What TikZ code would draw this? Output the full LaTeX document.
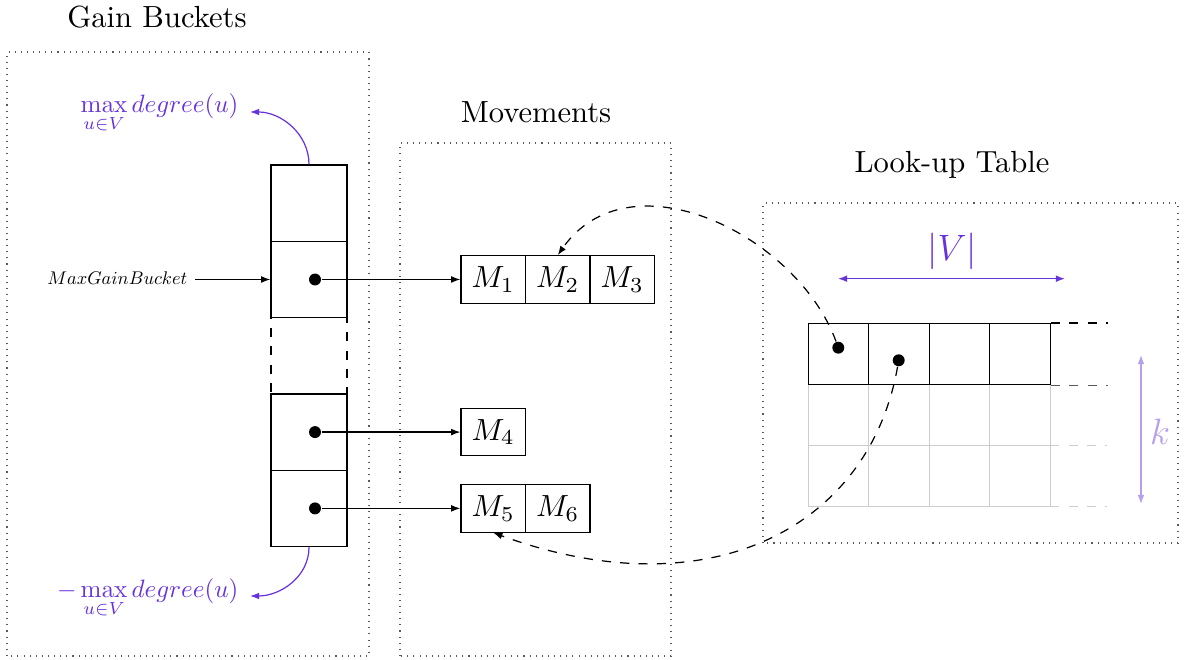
\documentclass[tikz,border=0pt]{standalone}
\usetikzlibrary{arrows.meta}
\definecolor{accent}{RGB}{102,51,221}
\definecolor{accentlight}{RGB}{182,160,238}
\definecolor{cellgray}{RGB}{205,205,205}
\begin{document}
\begin{tikzpicture}[x=0.327pt,y=0.327pt,
  >={Latex[length=3pt,width=2.2pt]},
  frame/.style={draw,black!65,line width=0.35pt,dash pattern=on 0.35pt off 1.65pt},
  title/.style={anchor=base,inner sep=0pt,font=\normalsize},
  bucket/.style={draw,minimum width=24.85pt,minimum height=24.95pt,inner sep=0pt},
  mcell/.style={draw,minimum width=21.09pt,minimum height=15.53pt,inner sep=0pt},
  tcell/.style={draw,minimum width=19.78pt,minimum height=19.95pt,inner sep=0pt},
  pointer/.style={circle,fill,minimum size=3.9pt,inner sep=0pt},
  ptr/.style={->},
  jump/.style={->,dashed},
  bound/.style={anchor=base east,inner sep=0pt,text=accent},
  ext/.style={dashed}]
\useasboundingbox (0,0) rectangle (1184,660);

% section frames
\draw[frame] (7,4) rectangle (369,608);
\draw[frame] (400,4) rectangle (671,517);
\draw[frame] (763,117) rectangle (1178,457);

% section titles
\node[title] (tGain) at (157,632.5) {Gain Buckets};
\node[title] (tMove) at (536,537) {Movements};
\node[title] (tLook) at (952,487) {Look-up Table};

% gain buckets
\node[bucket] (b1) at (309,456.8) {};
\node[bucket] (b2) at (309,380.5) {};
\node[bucket,dashed] (b3) at (309,304.2) {};
\node[bucket] (b4) at (309,227.9) {};
\node[bucket] (b5) at (309,151.6) {};

\node[pointer] (d2) at (315,380.5) {};
\node[pointer] (d4) at (315,227.9) {};
\node[pointer] (d5) at (315,151.6) {};

% bucket range labels
\node[bound] (lmax) at (239,547) {\scalebox{0.82}{$\displaystyle\max_{u\in V} degree(u)$}};
\node[bound] (lmin) at (239,62) {\scalebox{0.82}{$\displaystyle-\max_{u\in V} degree(u)$}};
\coordinate (maxTop) at (250,548);
\coordinate (maxBot) at (250,64);
\draw[accent,->] (b1.north) to[out=90,in=0] (maxTop);
\draw[accent,->] (b5.south) to[out=-90,in=0] (maxBot);

% max gain pointer
\node[anchor=base east,inner sep=0pt] (mgb) at (188,375) {\scalebox{0.6}{$MaxGainBucket$}};
\draw[ptr] ([xshift=2.3pt]mgb.east |- b2.west) -- (b2.west);

% movement lists
\node[mcell] (M1) at (493.25,380.5) {$M_1$};
\node[mcell] (M2) at (557.75,380.5) {$M_2$};
\node[mcell] (M3) at (622.25,380.5) {$M_3$};
\node[mcell] (M4) at (493.25,227.9) {$M_4$};
\node[mcell] (M5) at (493.25,151.6) {$M_5$};
\node[mcell] (M6) at (557.75,151.6) {$M_6$};

\draw[ptr] (d2) -- (M1.west);
\draw[ptr] (d4) -- (M4.west);
\draw[ptr] (d5) -- (M5.west);

% look-up table: unused rows in light gray
\foreach \i in {0,...,3}
  \foreach \j in {1,2}
    \draw[cellgray] (808.25+60.5*\i,275.4-61*\j) rectangle +(60.5,61);
\draw[ext,cellgray] (1050.25,214.4) -- (1107,214.4);
\draw[ext,cellgray] (1050.25,153.4) -- (1107,153.4);

% look-up table: first row
\node[tcell] (t1) at (838.5,305.9) {};
\node[tcell] (t2) at (899,305.9) {};
\node[tcell] (t3) at (959.5,305.9) {};
\node[tcell] (t4) at (1020,305.9) {};
\draw[ext] (t4.north east) -- ++(57,0);
\draw[ext,black!65] (t4.south east) -- ++(57,0);

\node[pointer] (td1) at (838.3,312.3) {};
\node[pointer] (td2) at (898.7,299.7) {};

% table dimensions
\coordinate (vL) at (838,381.3);
\coordinate (vR) at (1065,381.3);
\draw[accent,<->] (vL) -- (vR);
\node[text=accent,font=\fontsize{11.5}{14}\selectfont] (lV) at (952,409) {$|V|$};

\coordinate (kT) at (1141,305);
\coordinate (kB) at (1141,156);
\draw[accentlight,<->] (kT) -- (kB);
\node[text=accentlight,font=\fontsize{11.5}{14}\selectfont] (lk) at (1160,228) {$k$};

% references from the table back to the movements
\draw[jump] (td1) .. controls +(110:120) and +(55:125) .. (M2.north);
\draw[jump] (td2) .. controls +(-100:170) and +(-20:230) .. (M5.south);
\end{tikzpicture}
\end{document}
